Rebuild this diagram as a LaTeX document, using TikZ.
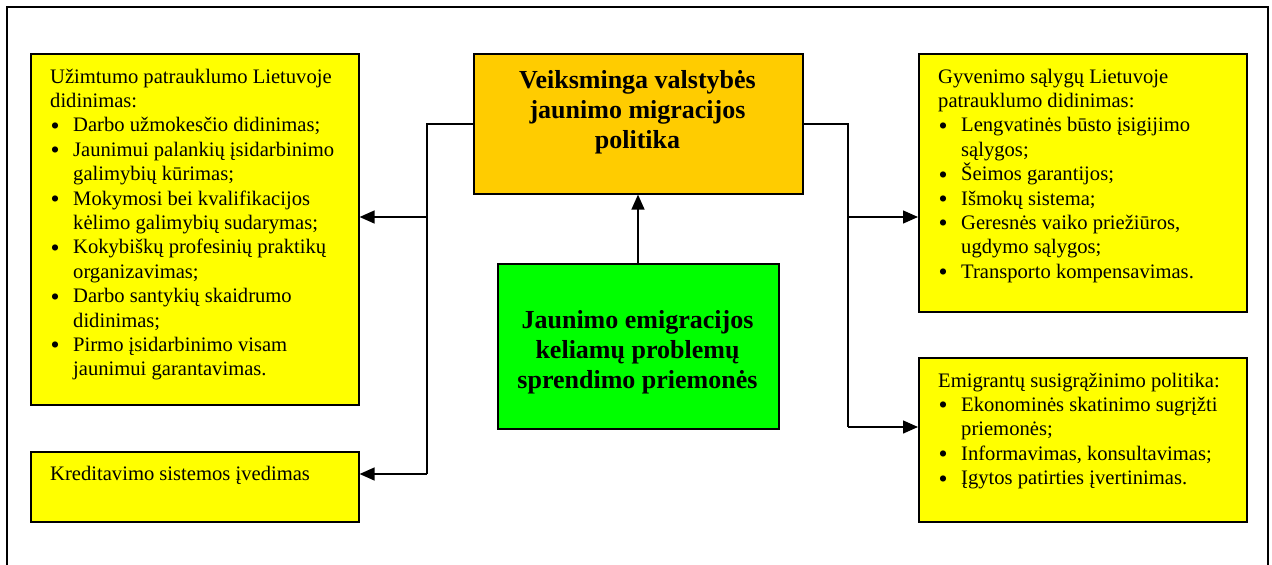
\documentclass[tikz,border=0pt]{standalone}
\usepackage{fontspec}
\setmainfont{Liberation Serif}
\usetikzlibrary{arrows.meta}
\definecolor{ylw}{HTML}{FFFF00}
\definecolor{org}{HTML}{FFCC00}
\definecolor{grn}{HTML}{00FF00}
\newcommand{\itm}[1]{\par\hangindent=23pt\hangafter=1\noindent\makebox[23pt][l]{\hspace{0.5pt}\smash{\raisebox{-2.5pt}{\scalebox{1.25}{\textbullet}}}}#1}
\newcommand{\hdr}[1]{\par\noindent #1}
\newcommand{\blk}[2]{\begin{minipage}[t]{#1}\raggedright\fontsize{20.6}{24.4}\selectfont\parindent=0pt\parskip=0pt #2\end{minipage}}
\newcommand{\ttl}[1]{\begin{minipage}[t]{300pt}\centering\bfseries\fontsize{26}{30}\selectfont #1\end{minipage}}
\tikzset{
  box/.style={draw=black, line width=1.6pt, rectangle, inner sep=0pt, anchor=north west},
  txt/.style={inner sep=0pt, anchor=base west},
  ttxt/.style={inner sep=0pt, anchor=base},
  arr/.style={line width=1.4pt, -{Triangle[length=15pt,width=13pt]}},
  ln/.style={line width=1.4pt}
}
\begin{document}
\begin{tikzpicture}[x=1pt,y=-1pt]
\useasboundingbox (0,0) rectangle (1272,565);
\draw[line width=2pt] (6.5,565) -- (6.5,6.5) -- (1267.5,6.5) -- (1267.5,565);

% boxes
\node[box, fill=ylw, minimum width=328pt, minimum height=351pt] (L1) at (30,53) {};
\node[box, fill=ylw, minimum width=328pt, minimum height=70pt] (K) at (30,451) {};
\node[box, fill=org, minimum width=329pt, minimum height=140pt] (O) at (473,53) {};
\node[box, fill=grn, minimum width=281pt, minimum height=165pt] (G) at (497,263) {};
\node[box, fill=ylw, minimum width=328pt, minimum height=258pt] (R1) at (918,53) {};
\node[box, fill=ylw, minimum width=328pt, minimum height=164pt] (R2) at (918,357) {};

% texts
\node[txt] (L1t) at (50,83) {\blk{305pt}{%
\hdr{Užimtumo patrauklumo Lietuvoje\newline didinimas:}
\itm{Darbo užmokesčio didinimas;}
\itm{Jaunimui palankių įsidarbinimo\newline galimybių kūrimas;}
\itm{Mokymosi bei kvalifikacijos\newline kėlimo galimybių sudarymas;}
\itm{Kokybiškų profesinių praktikų\newline organizavimas;}
\itm{Darbo santykių skaidrumo\newline didinimas;}
\itm{Pirmo įsidarbinimo visam\newline jaunimui garantavimas.}}};
\node[txt] (Kt) at (50,480) {\blk{305pt}{\hdr{Kreditavimo sistemos įvedimas}}};
\node[txt] (R1t) at (938,83) {\blk{305pt}{%
\hdr{Gyvenimo sąlygų Lietuvoje\newline patrauklumo didinimas:}
\itm{Lengvatinės būsto įsigijimo\newline sąlygos;}
\itm{Šeimos garantijos;}
\itm{Išmokų sistema;}
\itm{Geresnės vaiko priežiūros,\newline ugdymo sąlygos;}
\itm{Transporto kompensavimas.}}};
\node[txt] (R2t) at (938,387) {\blk{305pt}{%
\hdr{Emigrantų susigrąžinimo politika:}
\itm{Ekonominės skatinimo sugrįžti\newline priemonės;}
\itm{Informavimas, konsultavimas;}
\itm{Įgytos patirties įvertinimas.}}};
\node[ttxt] (Ot) at (637.5,88) {\ttl{Veiksminga valstybės\\jaunimo migracijos\\politika}};
\node[ttxt] (Gt) at (637.5,328) {\ttl{Jaunimo emigracijos\\keliamų problemų\\sprendimo priemonės}};

% connectors
\coordinate (lt) at (427,124);
\coordinate (la) at (427,217);
\coordinate (lb) at (427,474);
\coordinate (rt) at (848,124);
\coordinate (ra) at (848,217);
\coordinate (rb) at (848,427);
\draw[ln] (O.west |- lt) -- (lt) -- (lb);
\draw[ln] (O.east |- rt) -- (rt) -- (rb);
\draw[arr] (la) -- (L1.east |- la);
\draw[arr] (lb) -- (K.east |- lb);
\draw[arr] (ra) -- (R1.west |- ra);
\draw[arr] (rb) -- (R2.west |- rb);
\draw[arr] (G.north -| 638,0) -- (O.south -| 638,0);
\end{tikzpicture}
\end{document}
